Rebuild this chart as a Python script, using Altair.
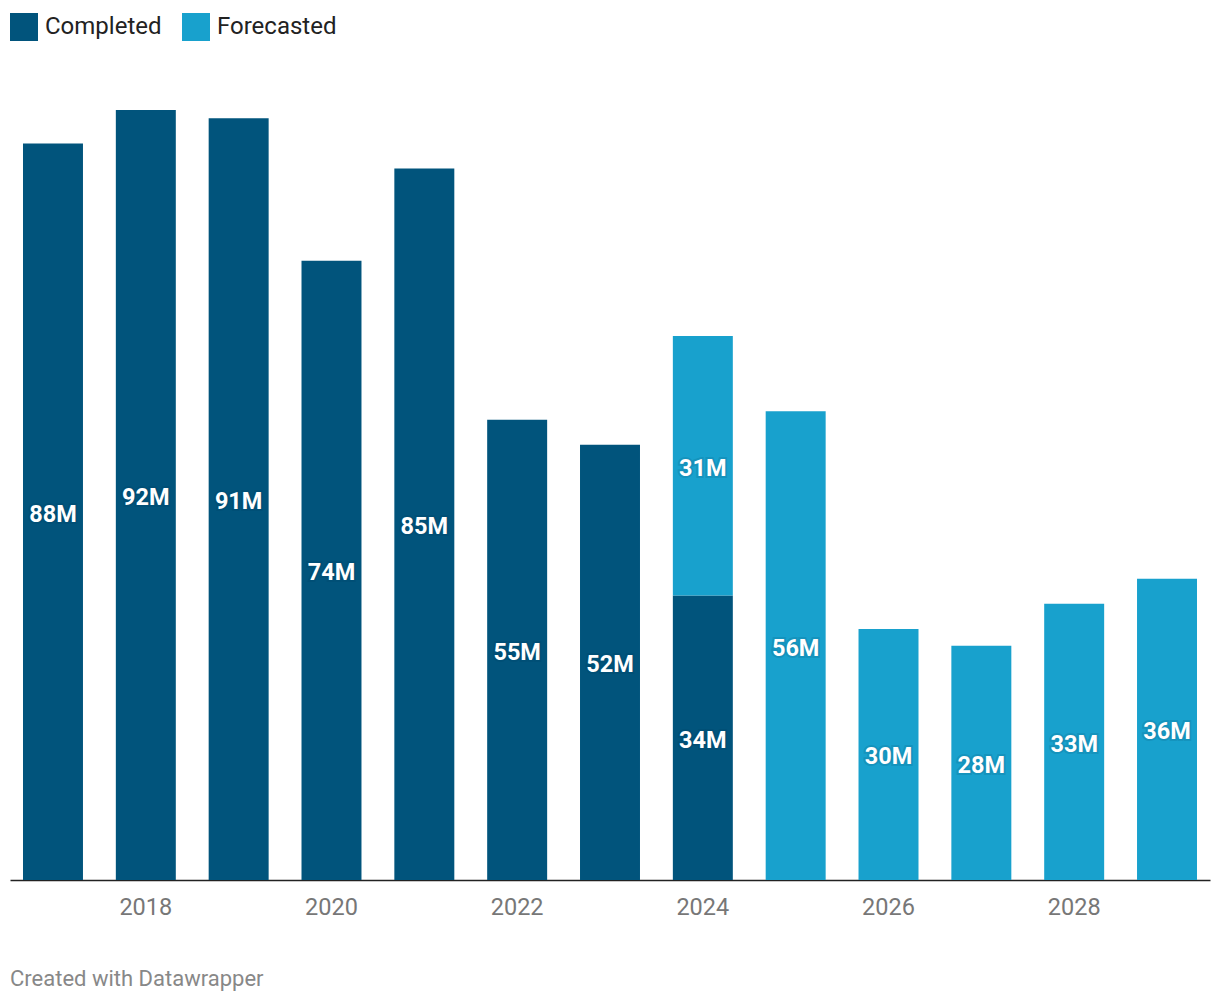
import altair as alt
import pandas as pd

years = [2017, 2018, 2019, 2020, 2021, 2022, 2023, 2024, 2024, 2025, 2026, 2027, 2028, 2029]
status = ["Completed"] * 8 + ["Forecasted"] * 6
values = [88, 92, 91, 74, 85, 55, 52, 34, 31, 56, 30, 28, 33, 36]
order = [0] * 8 + [1] * 6
footer_text = ["Created with Datawrapper"]

df = pd.DataFrame({"year": years, "status": status, "value": values, "ord": order})
foot = pd.DataFrame({"t": footer_text})

colors = ["#01547c", "#18a1cd"]
FONT = "Roboto"

x = alt.X(
    "year:O",
    scale=alt.Scale(paddingInner=0.354, paddingOuter=0.14),
    axis=alt.Axis(
        title=None,
        labelAngle=0,
        ticks=False,
        domainColor="#222222",
        domainWidth=1.5,
        labelColor="#777777",
        labelFont=FONT,
        labelFontSize=23.5,
        labelPadding=15,
        labelExpr="datum.value % 2 == 0 ? datum.label : ''",
    ),
)
yscale = alt.Scale(domain=[0, 92], nice=False, zero=True)

bars = alt.Chart(df).mark_bar().encode(
    x=x,
    y=alt.Y("value:Q", stack="zero", scale=yscale, axis=None),
    color=alt.Color(
        "status:N",
        scale=alt.Scale(domain=["Completed", "Forecasted"], range=colors),
        legend=alt.Legend(
            title=None,
            orient="none",
            legendX=0,
            legendY=-97,
            direction="horizontal",
            symbolType="square",
            symbolSize=784,
            symbolStrokeWidth=0,
            symbolOpacity=1,
            labelFont=FONT,
            labelFontSize=24,
            labelColor="#222222",
            labelOffset=7,
            columnPadding=20,
        ),
    ),
    order=alt.Order("ord:Q"),
)

base_txt = (
    alt.Chart(df)
    .transform_stack(stack="value", groupby=["year"], as_=["y0", "y1"], sort=[alt.SortField("ord")])
    .transform_calculate(mid="(datum.y0 + datum.y1) / 2", label="datum.value + 'M'")
)

halo = base_txt.mark_text(
    font=FONT, fontSize=23.5, fontWeight="bold", color="#00324d", stroke="#00324d",
    strokeWidth=4, strokeOpacity=0.35, opacity=0.35, baseline="middle", dy=3
).encode(
    x=x,
    y=alt.Y("mid:Q", scale=yscale, axis=None),
    text="label:N",
)
labels = base_txt.mark_text(
    font=FONT, fontSize=23.5, fontWeight="bold", color="white", baseline="middle", dy=3
).encode(
    x=x,
    y=alt.Y("mid:Q", scale=yscale, axis=None),
    text="label:N",
)

footer = alt.Chart(foot).mark_text(
    font=FONT, fontSize=22, color="#888888", align="left", baseline="alphabetic"
).encode(x=alt.value(0), y=alt.value(876), text="t:N")

chart = (
    alt.layer(bars, halo, labels, footer)
    .properties(
        width=1200,
        height=770,
        background="white",
        autosize=alt.AutoSizeParams(type="none"),
        padding={"left": 10, "top": 110, "right": 10, "bottom": 124},
    )
    .configure_view(strokeWidth=0, strokeOpacity=0)
)

chart.save("out.html", embed_options={"renderer": "svg", "actions": False})
